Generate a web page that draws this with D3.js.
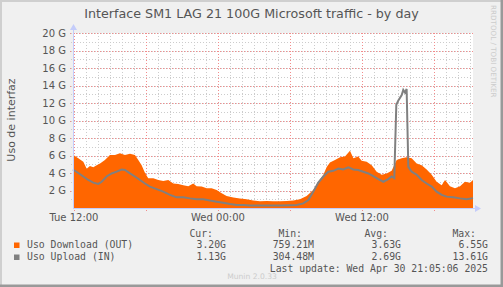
<!DOCTYPE html>
<html>
<head>
<meta charset="utf-8">
<script src="https://cdn.jsdelivr.net/npm/d3@7"></script>
<style>
  body { margin: 0; background: #f0f0f0; }
  svg { display: block; }
  text { font-family: "DejaVu Sans", sans-serif; fill: #555; }
  .mono { font-family: "DejaVu Sans Mono", monospace; font-size: 9.8px; fill: #555; }
</style>
</head>
<body>
<div id="chart"></div>
<script>
// hours since Tue Apr 29 00:00, values in G
var downHours = [11.92, 12.36, 12.78, 13.06, 13.33, 13.61, 13.89, 14.17, 14.58, 15.0, 15.42, 15.83, 16.25, 16.67,
  17.08, 17.36, 17.64, 17.92, 18.19, 18.61, 19.03, 19.44, 19.86, 20.28, 20.69, 21.11, 21.53, 21.94, 22.22,
  22.64, 23.06, 23.47, 23.89, 24.31, 24.72, 25.28, 25.83, 26.39, 26.94, 27.5, 28.06, 28.61, 29.17, 29.72,
  30.28, 30.83, 31.39, 31.94, 32.36, 32.78, 33.06, 33.33, 33.75, 34.17, 34.58, 35.0, 35.28, 35.69, 35.97,
  36.39, 36.81, 37.22, 37.64, 38.06, 38.47, 38.89, 39.31, 39.72, 40.14, 40.56, 40.97, 41.39, 41.81, 42.22,
  42.64, 42.92, 43.33, 43.75, 44.17, 44.58, 45.0, 45.25];
var downValues = [6.1, 5.7, 5.3, 4.5, 4.8, 4.65, 4.9, 5.1, 5.5, 6.05, 6.05, 6.25, 6.05, 6.2,
  6.05, 5.5, 4.9, 4.0, 3.4, 3.4, 3.2, 3.1, 3.2, 2.8, 2.75, 2.6, 2.5, 2.8, 2.5,
  2.45, 2.25, 2.25, 2.05, 1.7, 1.37, 1.2, 1.1, 1.0, 0.85, 0.76, 0.8, 0.76, 0.78, 0.8,
  0.85, 1.0, 1.37, 2.05, 3.0, 3.8, 4.7, 5.2, 5.5, 5.8, 5.9, 6.55, 5.7, 5.9, 5.4,
  5.3, 4.9, 4.15, 3.8, 3.95, 4.25, 5.5, 5.7, 5.8, 5.7, 5.1, 4.9, 4.4, 3.8, 3.0,
  2.6, 3.2, 2.5, 2.25, 2.5, 3.0, 2.9, 3.2];

var upHours = [11.92, 12.36, 12.78, 13.19, 13.61, 14.03, 14.31, 14.72, 15.14, 15.56, 15.97, 16.25, 16.67,
  17.08, 17.5, 17.92, 18.33, 18.89, 19.44, 20.0, 20.56, 21.11, 21.67, 22.22, 22.78, 23.33, 23.89, 24.44,
  25.0, 25.56, 26.11, 26.67, 27.5, 28.33, 29.17, 30.0, 30.56, 31.11, 31.53, 31.94, 32.36, 32.78, 33.19,
  33.61, 34.03, 34.44, 34.86, 35.28, 35.69, 36.11, 36.53, 36.94, 37.36, 37.78, 38.19, 38.47, 38.69, 38.86,
  39.03, 39.31, 39.44, 39.58, 39.72, 39.86, 40.14, 40.56, 40.97, 41.39, 41.81, 42.22, 42.64, 43.06, 43.61,
  44.17, 44.72, 45.25];
var upValues = [4.4, 4.0, 3.6, 3.2, 2.9, 2.75, 3.0, 3.6, 3.95, 4.15, 4.4, 4.35, 3.95,
  3.6, 3.2, 2.8, 2.45, 2.15, 1.87, 1.5, 1.22, 1.22, 1.1, 1.0, 1.0, 0.85, 0.72, 0.6,
  0.46, 0.34, 0.34, 0.3, 0.3, 0.3, 0.3, 0.32, 0.34, 0.53, 0.91, 1.87, 2.9, 3.6, 4.15,
  4.25, 4.5, 4.4, 4.65, 4.4, 4.35, 4.15, 3.95, 3.65, 3.3, 3.0, 3.3, 3.6, 3.4, 11.8,
  12.3, 12.9, 13.5, 13.2, 13.61, 4.7, 4.15, 3.8, 3.2, 2.8, 2.45, 1.87, 1.5, 1.3, 1.22,
  1.1, 1.0, 1.13];

var yTicks = [2, 4, 6, 8, 10, 12, 14, 16, 18, 20];
var legendNames = ["Uso Download (OUT)", "Uso Upload (IN)"];
var legendHeaders = ["Cur:", "Min:", "Avg:", "Max:"];
var legendStats = [["3.20G", "759.21M", "3.63G", "6.55G"], ["1.13G", "304.48M", "2.69G", "13.61G"]];
var colors = ["#ff6600", "#808080"];

var svgWidth = 503;
var svgHeight = 287;
var plot = { left: 73, right: 473, top: 33, bottom: 208 };

var day0 = Date.UTC(2025, 3, 29);
function toDate(h) { return new Date(day0 + h * 3600e3); }

var down = downHours.map((h, i) => ({ t: toDate(h), v: downValues[i] }));
var up = upHours.map((h, i) => ({ t: toDate(h), v: upValues[i] }));

var svg = d3.select("#chart")
  .append("svg")
  .attr("width", svgWidth)
  .attr("height", svgHeight);

// frame
svg.append("rect").attr("width", svgWidth).attr("height", svgHeight).attr("fill", "#f0f0f0");
svg.append("rect").attr("x", 0).attr("y", 0).attr("width", svgWidth).attr("height", 2).attr("fill", "#cfcfcf");
svg.append("rect").attr("x", 0).attr("y", 0).attr("width", 2).attr("height", svgHeight).attr("fill", "#cfcfcf");
svg.append("rect").attr("x", svgWidth - 2.5).attr("y", 0).attr("width", 2.5).attr("height", svgHeight).attr("fill", "#999");
svg.append("rect").attr("x", 0).attr("y", svgHeight - 2.5).attr("width", svgWidth).attr("height", 2.5).attr("fill", "#999");

var x = d3.scaleUtc()
  .domain([toDate(11.92), toDate(45.25)])
  .range([plot.left, plot.right]);

var y = d3.scaleLinear()
  .domain([0, 20])
  .range([plot.bottom, plot.top]);

svg.append("rect")
  .attr("x", plot.left).attr("y", plot.top)
  .attr("width", plot.right - plot.left).attr("height", plot.bottom - plot.top)
  .attr("fill", "#fff");

// grid
var grid = svg.append("g").attr("shape-rendering", "crispEdges");
var minorX = x.ticks(d3.utcHour.every(1));
var majorX = x.ticks(d3.utcHour.every(6));
var minorY = d3.range(1, 21);

grid.selectAll(".vminor").data(minorX).enter().append("line")
  .attr("x1", d => Math.round(x(d)) + 0.5).attr("x2", d => Math.round(x(d)) + 0.5)
  .attr("y1", plot.top).attr("y2", plot.bottom + 2)
  .attr("stroke", "#cccccc").attr("stroke-dasharray", "1,2");
grid.selectAll(".hminor").data(minorY).enter().append("line")
  .attr("x1", plot.left - 2).attr("x2", plot.right)
  .attr("y1", d => Math.round(y(d)) + 0.5).attr("y2", d => Math.round(y(d)) + 0.5)
  .attr("stroke", "#cccccc").attr("stroke-dasharray", "1,2");
grid.selectAll(".vmajor").data(majorX).enter().append("line")
  .attr("x1", d => Math.round(x(d)) + 0.5).attr("x2", d => Math.round(x(d)) + 0.5)
  .attr("y1", plot.top).attr("y2", plot.bottom + 3)
  .attr("stroke", "#f28c8c").attr("stroke-dasharray", "1,2");
grid.selectAll(".hmajor").data(yTicks).enter().append("line")
  .attr("x1", plot.left - 3).attr("x2", plot.right)
  .attr("y1", d => Math.round(y(d)) + 0.5).attr("y2", d => Math.round(y(d)) + 0.5)
  .attr("stroke", "#f28c8c").attr("stroke-dasharray", "1,2");

// series
var area = d3.area()
  .x(d => x(d.t))
  .y0(y(0))
  .y1(d => y(d.v));

var line = d3.line()
  .x(d => x(d.t))
  .y(d => y(d.v));

svg.append("path")
  .datum(down)
  .attr("d", area)
  .attr("fill", colors[0]);

svg.append("path")
  .datum(up)
  .attr("d", line)
  .attr("fill", "none")
  .attr("stroke", colors[1])
  .attr("stroke-width", 2);

// axes lines and arrows
var axisColor = "#c4ccfa";
svg.append("line")
  .attr("x1", plot.left + 0.5).attr("x2", plot.left + 0.5)
  .attr("y1", plot.bottom).attr("y2", plot.top - 4)
  .attr("stroke", axisColor);
svg.append("path")
  .attr("d", `M${plot.left - 3},${plot.top - 3}L${plot.left + 0.5},${plot.top - 9}L${plot.left + 4},${plot.top - 3}Z`)
  .attr("fill", axisColor);
svg.append("line")
  .attr("x1", plot.left).attr("x2", plot.right + 3)
  .attr("y1", plot.bottom + 0.5).attr("y2", plot.bottom + 0.5)
  .attr("stroke", axisColor);
svg.append("path")
  .attr("d", `M${plot.right + 2},${plot.bottom - 3}L${plot.right + 8},${plot.bottom + 0.5}L${plot.right + 2},${plot.bottom + 4}Z`)
  .attr("fill", axisColor);

// y labels
svg.selectAll(".ylab").data(yTicks).enter().append("text")
  .attr("x", 66)
  .attr("y", d => y(d) + 3.5)
  .attr("text-anchor", "end")
  .attr("font-size", "10px")
  .text(d => d + " G");

// x labels
var fmt = d3.utcFormat("%a %H:%M");
svg.selectAll(".xlab").data(x.ticks(d3.utcHour.every(12))).enter().append("text")
  .attr("x", d => x(d))
  .attr("y", 221)
  .attr("text-anchor", "middle")
  .attr("font-size", "10px")
  .text(d => fmt(d));

// title
svg.append("text")
  .attr("x", 251.5)
  .attr("y", 18)
  .attr("text-anchor", "middle")
  .attr("font-size", "12.7px")
  .text("Interface SM1 LAG 21 100G Microsoft traffic - by day");

svg.append("text")
  .attr("transform", "translate(15, 120) rotate(-90)")
  .attr("text-anchor", "middle")
  .attr("font-size", "11px")
  .text("Uso de interfaz");

svg.append("text")
  .attr("transform", "translate(491, 5) rotate(90)")
  .attr("font-size", "7.2px")
  .style("fill", "#cccccc")
  .text("RRDTOOL / TOBI OETIKER");

// legend
var headerRight = [213, 302, 388, 476];
var valueRight = [226, 314, 401, 488];
svg.selectAll(".lhead").data(legendHeaders).enter().append("text")
  .attr("class", "mono")
  .attr("x", (d, i) => headerRight[i])
  .attr("y", 236.5)
  .attr("text-anchor", "end")
  .text(d => d);

legendNames.forEach(function (name, r) {
  var yy = 248 + r * 12;
  svg.append("rect")
    .attr("x", 14).attr("y", yy - 5.5)
    .attr("width", 5.5).attr("height", 5.5)
    .attr("fill", colors[r]);
  svg.append("text").attr("class", "mono")
    .attr("x", 27).attr("y", yy).text(name);
  legendStats[r].forEach(function (s, c) {
    svg.append("text").attr("class", "mono")
      .attr("x", valueRight[c]).attr("y", yy)
      .attr("text-anchor", "end").text(s);
  });
});

svg.append("text").attr("class", "mono")
  .attr("x", 488).attr("y", 272)
  .attr("text-anchor", "end")
  .text("Last update: Wed Apr 30 21:05:06 2025");

svg.append("text")
  .attr("x", 252).attr("y", 279)
  .attr("text-anchor", "middle")
  .attr("font-size", "7.6px")
  .style("fill", "#cccccc")
  .text("Munin 2.0.33");
</script>
</body>
</html>
